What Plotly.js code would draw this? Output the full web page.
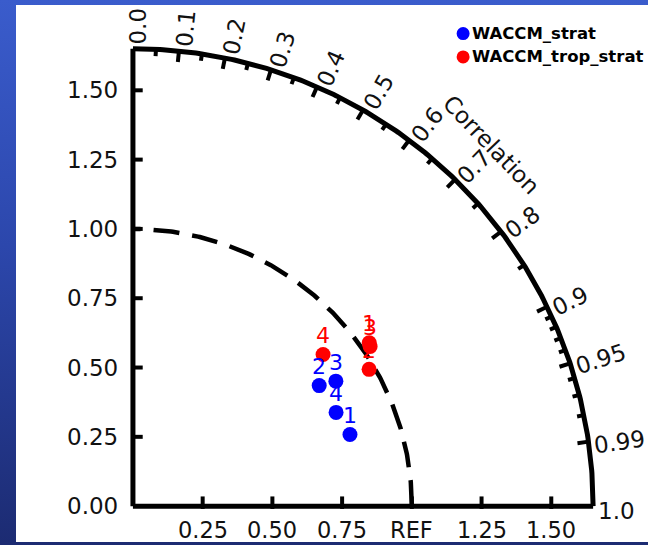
<!DOCTYPE html>
<html>
<head>
<meta charset="utf-8">
<script src="https://cdn.plot.ly/plotly-3.0.1.min.js"></script>
<style>
  html, body { margin: 0; padding: 0; width: 648px; height: 545px; overflow: hidden;
    background: linear-gradient(180deg, #3a5ccc 0%, #2c47ac 45%, #1c2b72 100%); }
  #chart { position: absolute; left: 16px; top: 5px; width: 632px; height: 537px; background: #fff; }
</style>
</head>
<body>
<div id="chart"></div>
<script>
// Taylor diagram: normalized standard deviation (radius) vs correlation (angle)
const seriesNames = ['WACCM_strat', 'WACCM_trop_strat'];
const seriesColors = ['#0000ff', '#ff0000'];
const caseLabels = ['1', '2', '3', '4'];

const stratRatio = [0.820, 0.797, 0.856, 0.803];
const stratCorr = [0.949, 0.838, 0.850, 0.907];
const tropStratRatio = [1.032, 0.980, 1.027, 0.874];
const tropStratCorr = [0.821, 0.864, 0.828, 0.780];

const stdTickVals = [0.25, 0.5, 0.75, 1.0, 1.25, 1.5];
const stdTickText = ['0.25', '0.50', '0.75', 'REF', '1.25', '1.50'];
const yTickVals = [0, 0.25, 0.5, 0.75, 1.0, 1.25, 1.5];
const yTickText = ['0.00', '0.25', '0.50', '0.75', '1.00', '1.25', '1.50'];

const corrLabelVals = [0.0, 0.1, 0.2, 0.3, 0.4, 0.5, 0.6, 0.7, 0.8, 0.9, 0.95, 0.99, 1.0];
const corrLabelText = ['0.0', '0.1', '0.2', '0.3', '0.4', '0.5', '0.6', '0.7', '0.8', '0.9', '0.95', '0.99', '1.0'];
const corrMajorTicks = [0.1, 0.2, 0.3, 0.4, 0.5, 0.6, 0.7, 0.8, 0.9, 0.95, 0.99];
const corrMinorTicks = [0.05, 0.15, 0.25, 0.35, 0.45, 0.55, 0.65, 0.75, 0.85,
                        0.91, 0.92, 0.93, 0.94, 0.96, 0.97, 0.98];

const refStd = 1.0;
const maxStd = 1.65;

// plot geometry
const FONT = 'DejaVu Sans, sans-serif';
const W = 632, H = 537;
const M = { l: 103.05, r: 26.75, t: 16.4, b: 21.5 };
const XR = [-0.05, 1.75], YR = [-0.05, 1.75];
const plotW = W - M.l - M.r, plotH = H - M.t - M.b;
const pxPerUnit = plotW / (XR[1] - XR[0]);

function polar(r, c) { return [r * c, r * Math.sqrt(Math.max(0, 1 - c * c))]; }

// ---- arcs ----
function arc(r, n) {
  const xs = [], ys = [];
  for (let i = 0; i <= n; i++) {
    const a = (Math.PI / 2) * i / n;
    xs.push(r * Math.cos(a)); ys.push(r * Math.sin(a));
  }
  return { xs, ys };
}
const outer = arc(maxStd, 240);
const refArc = arc(refStd, 240);

// ---- tick segments ----
const tx = [], ty = [];
function seg(x0, y0, x1, y1) { tx.push(x0, x1, null); ty.push(y0, y1, null); }
stdTickVals.forEach(v => seg(v, -0.01, v, 0.035));
yTickVals.slice(1).forEach(v => seg(0, v, 0.035, v));
corrMajorTicks.forEach(c => { const a = polar(maxStd, c), b = polar(maxStd - 0.04, c); seg(a[0], a[1], b[0], b[1]); });
corrMinorTicks.forEach(c => { const a = polar(maxStd, c), b = polar(maxStd - 0.025, c); seg(a[0], a[1], b[0], b[1]); });

const traces = [
  { x: refArc.xs, y: refArc.ys, mode: 'lines', line: { color: '#000', width: 4.5, dash: '26px,13px' }, hoverinfo: 'skip' },
  { x: outer.xs, y: outer.ys, mode: 'lines', line: { color: '#000', width: 5 }, hoverinfo: 'skip' },
  { x: [0, maxStd], y: [0, 0], mode: 'lines', line: { color: '#000', width: 5 }, hoverinfo: 'skip' },
  { x: [0, 0], y: [0, maxStd], mode: 'lines', line: { color: '#000', width: 5 }, hoverinfo: 'skip' },
  { x: tx, y: ty, mode: 'lines', line: { color: '#000', width: 4 }, hoverinfo: 'skip' }
];

// ---- annotations ----
const ann = [];

// model points, with their case numbers just above each marker
[[stratRatio, stratCorr], [tropStratRatio, tropStratCorr]].forEach((s, k) => {
  const pts = s[0].map((r, i) => polar(r, s[1][i]));
  traces.push({
    name: seriesNames[k],
    x: pts.map(p => p[0]), y: pts.map(p => p[1]),
    mode: 'markers',
    marker: { color: seriesColors[k], size: 15 },
    cliponaxis: false
  });
  pts.forEach((p, i) => ann.push({ x: p[0], y: p[1], xref: 'x', yref: 'y', text: caseLabels[i], showarrow: false,
    xanchor: 'center', yanchor: 'middle', yshift: 19, font: { family: FONT, size: 22, color: seriesColors[k] } }));
});

yTickVals.forEach((v, i) => ann.push({ x: 0, y: v, xref: 'x', yref: 'y', text: yTickText[i], showarrow: false,
  xanchor: 'right', yanchor: 'middle', xshift: -13, font: { family: FONT, size: 23, color: '#111' } }));
stdTickVals.forEach((v, i) => ann.push({ x: v, y: 0, xref: 'x', yref: 'y', text: stdTickText[i], showarrow: false,
  xanchor: 'center', yanchor: 'middle', yshift: -24, font: { family: FONT, size: 22.5, color: '#111' } }));

const charW = { '0': 0.636, '1': 0.636, '2': 0.636, '3': 0.636, '4': 0.636, '5': 0.636, '6': 0.636, '7': 0.636, '8': 0.636, '9': 0.636, '.': 0.318 };
corrLabelVals.forEach((c, i) => {
  const txt = corrLabelText[i];
  const w = txt.split('').reduce((s, ch) => s + (charW[ch] || 0.6), 0) * 23;
  const th = Math.acos(c);
  const rc = maxStd + (5 + w / 2) / pxPerUnit;
  const p = polar(rc, c);
  ann.push({ x: p[0], y: p[1], xref: 'x', yref: 'y', text: txt, showarrow: false,
    xanchor: 'center', yanchor: 'middle', textangle: -th * 180 / Math.PI,
    xshift: 5 * Math.sin(th), yshift: -5 * Math.cos(th),
    font: { family: FONT, size: 23, color: '#111' } });
});
ann.push({ x: 1.286, y: 1.304, xref: 'x', yref: 'y', text: 'Correlation', showarrow: false,
  xanchor: 'center', yanchor: 'middle', textangle: 46, font: { family: FONT, size: 23, color: '#111' } });
ann.push({ x: -0.3405, y: 0.866, xref: 'x', yref: 'y', text: 'Difference from Mean (Normalized)', showarrow: false,
  xanchor: 'center', yanchor: 'middle', textangle: -90, font: { family: FONT, size: 24, color: '#111' } });

// ---- legend (top right) ----
const toPX = px => (px - 16 - M.l) / plotW;
const toPY = py => (H + 5 - M.b - py) / plotH;
const shapes = [];
[34, 57.3].forEach((py, k) => {
  shapes.push({ type: 'circle', xref: 'paper', yref: 'paper', xsizemode: 'pixel', ysizemode: 'pixel',
    xanchor: toPX(463.3), yanchor: toPY(py), x0: -6.5, x1: 6.5, y0: -6.5, y1: 6.5,
    fillcolor: seriesColors[k], line: { width: 0 } });
  ann.push({ x: toPX(470.5), y: toPY(py), xref: 'paper', yref: 'paper', text: '<b>' + seriesNames[k] + '</b>', showarrow: false,
    xanchor: 'left', yanchor: 'middle', font: { family: FONT, size: 16.5, color: '#000' } });
});

const layout = {
  width: W, height: H,
  margin: M,
  paper_bgcolor: '#ffffff', plot_bgcolor: 'rgba(0,0,0,0)',
  showlegend: false,
  xaxis: { range: XR, visible: false, fixedrange: true },
  yaxis: { range: YR, visible: false, fixedrange: true },
  annotations: ann,
  shapes: shapes
};

Plotly.newPlot('chart', traces, layout, { displayModeBar: false, staticPlot: true });
</script>
</body>
</html>
